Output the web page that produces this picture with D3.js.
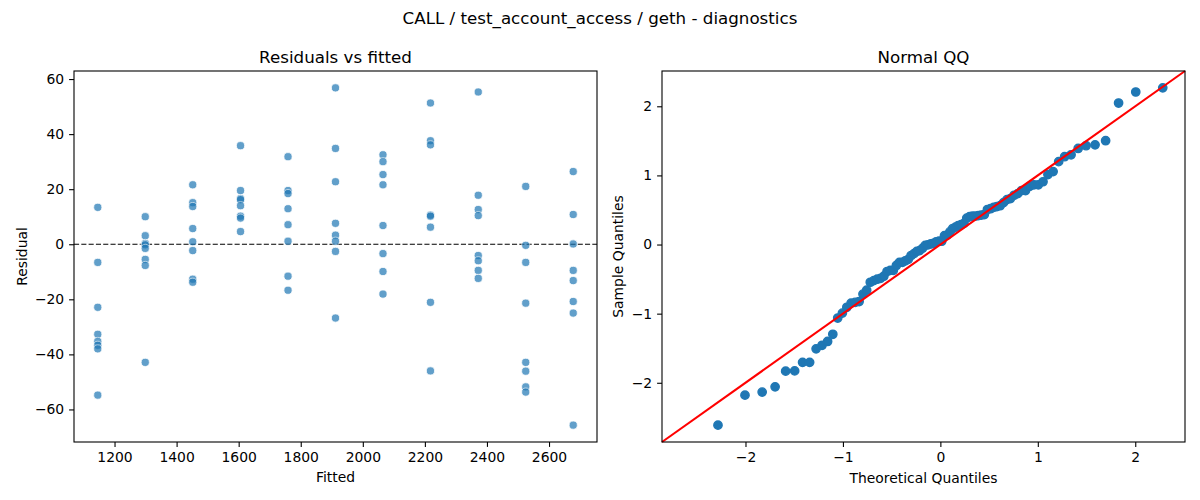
<!DOCTYPE html>
<html>
<head>
<meta charset="utf-8">
<script src="https://cdn.jsdelivr.net/npm/d3@7"></script>
<style>
  body { margin: 0; background: #fff; }
  text { font-family: "DejaVu Sans", sans-serif; fill: #000; }
  .axis text { font-size: 13.9px; font-family: "DejaVu Sans", sans-serif; }
  .axis path, .axis line { stroke: #000; stroke-width: 1.1px; }
</style>
</head>
<body>
<script>
// Fitted values (one per group, x position in the left panel)
var fittedLevels = [1146, 1299, 1452, 1606, 1759, 1912, 2065, 2218, 2372, 2525, 2678];

// Residuals read for each fitted level, same order as fittedLevels
var residualsByLevel = [
    [13.4, -6.6, -22.9, -32.7, -35.3, -36.7, -38.0, -54.8],
    [10.0, 3.1, 0.3, -0.2, -1.5, -5.5, -7.7, -42.9],
    [21.6, 15.1, 13.7, 5.7, 0.9, -2.3, -12.7, -13.8],
    [35.8, 19.5, 16.6, 16.2, 14.0, 10.2, 9.5, 4.6],
    [31.8, 19.5, 18.4, 12.9, 7.1, 1.1, -11.6, -16.7],
    [56.8, 34.8, 22.7, 7.6, 3.3, 1.1, -2.6, -26.8],
    [32.5, 30.0, 25.3, 21.6, 6.8, -3.4, -9.9, -18.1],
    [51.3, 37.6, 36.1, 10.6, 10.2, 6.2, -21.1, -46.0],
    [55.3, 17.8, 12.6, 10.4, -4.1, -6.0, -9.5, -12.4],
    [21.0, -0.4, -6.6, -21.4, -42.9, -46.1, -51.8, -53.7],
    [26.4, 10.8, 0.1, -9.5, -13.2, -20.8, -25.0, -65.7]
];

// Tick values
var fittedTicks = [1200, 1400, 1600, 1800, 2000, 2200, 2400, 2600];
var residualTicks = [-60, -40, -20, 0, 20, 40, 60];
var quantileTicks = [-2, -1, 0, 1, 2];

// Texts
var suptitle = "CALL / test_account_access / geth - diagnostics";
var leftTitle = "Residuals vs fitted";
var rightTitle = "Normal QQ";

var w = 1200, h = 500;

var svg = d3.select("body").append("svg")
    .attr("width", w)
    .attr("height", h);

// flatten residuals into points
var points = [];
fittedLevels.forEach(function(f, i){
    residualsByLevel[i].forEach(function(r){
        points.push({ fitted: f, resid: r });
    });
});

// matplotlib style 5% margin
function pad(ext){
    var d = (ext[1] - ext[0]) * 0.05;
    return [ext[0] - d, ext[1] + d];
}

// inverse normal CDF (Acklam)
function normInv(p){
    var a = [-3.969683028665376e+01, 2.209460984245205e+02, -2.759285104469687e+02, 1.383577518672690e+02, -3.066479806614716e+01, 2.506628277459239e+00];
    var b = [-5.447609879822406e+01, 1.615858368580409e+02, -1.556989798598866e+02, 6.680131188771972e+01, -1.328068155288572e+01];
    var c = [-7.784894002430293e-03, -3.223964580411365e-01, -2.400758277161838e+00, -2.549732539343734e+00, 4.374664141464968e+00, 2.938163982698783e+00];
    var d = [7.784695709041462e-03, 3.224671290700398e-01, 2.445134137142996e+00, 3.754408661907416e+00];
    var pl = 0.02425, q, r;
    if (p < pl) {
        q = Math.sqrt(-2 * Math.log(p));
        return (((((c[0]*q+c[1])*q+c[2])*q+c[3])*q+c[4])*q+c[5]) / ((((d[0]*q+d[1])*q+d[2])*q+d[3])*q+1);
    } else if (p <= 1 - pl) {
        q = p - 0.5; r = q * q;
        return (((((a[0]*r+a[1])*r+a[2])*r+a[3])*r+a[4])*r+a[5])*q / (((((b[0]*r+b[1])*r+b[2])*r+b[3])*r+b[4])*r+1);
    }
    q = Math.sqrt(-2 * Math.log(1 - p));
    return -(((((c[0]*q+c[1])*q+c[2])*q+c[3])*q+c[4])*q+c[5]) / ((((d[0]*q+d[1])*q+d[2])*q+d[3])*q+1);
}

// Suptitle
svg.append("text")
    .attr("x", w / 2)
    .attr("y", 24)
    .attr("text-anchor", "middle")
    .style("font-size", "16.7px")
    .text(suptitle);

// ---------- Left panel: residuals vs fitted ----------
var L = { x0: 74, x1: 597, y0: 71, y1: 442 };

var xL = d3.scaleLinear()
    .domain(pad(d3.extent(fittedLevels)))
    .range([L.x0, L.x1]);
var yL = d3.scaleLinear()
    .domain(pad(d3.extent(points, function(d){ return d.resid; })))
    .range([L.y1, L.y0]);

var left = svg.append("g");

// zero line
left.append("line")
    .attr("x1", L.x0).attr("x2", L.x1)
    .attr("y1", yL(0)).attr("y2", yL(0))
    .style("stroke", "#000")
    .style("stroke-width", 1.1)
    .style("stroke-dasharray", "5.1,2.2");

left.selectAll(".pt")
    .data(points)
    .enter()
    .append("circle")
    .attr("class", "pt")
    .attr("cx", function(d){ return xL(d.fitted); })
    .attr("cy", function(d){ return yL(d.resid); })
    .attr("r", 4.1)
    .style("fill", "#1f77b4")
    .style("stroke", "#fff")
    .style("stroke-width", 0.8)
    .style("opacity", 0.7);

// frame
left.append("rect")
    .attr("x", L.x0).attr("y", L.y0)
    .attr("width", L.x1 - L.x0).attr("height", L.y1 - L.y0)
    .style("fill", "none").style("stroke", "#000").style("stroke-width", 1.1);

left.append("g")
    .attr("class", "axis")
    .attr("transform", "translate(0," + L.y1 + ")")
    .call(d3.axisBottom(xL).tickValues(fittedTicks).tickSize(4.9).tickPadding(4.9).tickFormat(d3.format("d")))
    .call(function(g){ g.select(".domain").remove(); });

left.append("g")
    .attr("class", "axis")
    .attr("transform", "translate(" + L.x0 + ",0)")
    .call(d3.axisLeft(yL).tickValues(residualTicks).tickSize(4.9).tickPadding(4.9).tickFormat(d3.format("d")))
    .call(function(g){ g.select(".domain").remove(); });

left.append("text")
    .attr("x", (L.x0 + L.x1) / 2).attr("y", 63)
    .attr("text-anchor", "middle")
    .style("font-size", "16.7px")
    .text(leftTitle);

left.append("text")
    .attr("x", (L.x0 + L.x1) / 2).attr("y", 482)
    .attr("text-anchor", "middle")
    .style("font-size", "13.9px")
    .text("Fitted");

left.append("text")
    .attr("transform", "translate(27," + (L.y0 + L.y1) / 2 + ") rotate(-90)")
    .attr("text-anchor", "middle")
    .style("font-size", "13.9px")
    .text("Residual");

// ---------- Right panel: normal QQ ----------
var R = { x0: 662, x1: 1185, y0: 71, y1: 442 };

var resid = points.map(function(d){ return d.resid; }).sort(d3.ascending);
var n = resid.length;
var mu = d3.mean(resid);
var sd = Math.sqrt(d3.mean(resid, function(v){ return (v - mu) * (v - mu); }));
var qq = resid.map(function(v, i){
    return { theo: normInv((i + 1) / (n + 1)), samp: (v - mu) / sd };
});

// limits like statsmodels 45-degree line
var xl = pad(d3.extent(qq, function(d){ return d.theo; }));
var yl = pad(d3.extent(qq, function(d){ return d.samp; }));
var lim = [Math.min(xl[0], yl[0]), Math.max(xl[1], yl[1])];

var xR = d3.scaleLinear().domain(lim).range([R.x0, R.x1]);
var yR = d3.scaleLinear().domain(lim).range([R.y1, R.y0]);

var right = svg.append("g");

right.selectAll(".qq")
    .data(qq)
    .enter()
    .append("circle")
    .attr("class", "qq")
    .attr("cx", function(d){ return xR(d.theo); })
    .attr("cy", function(d){ return yR(d.samp); })
    .attr("r", 4.17)
    .style("fill", "#1f77b4")
    .style("stroke", "#1f77b4")
    .style("stroke-width", 1.39);

right.append("line")
    .attr("x1", xR(lim[0])).attr("y1", yR(lim[0]))
    .attr("x2", xR(lim[1])).attr("y2", yR(lim[1]))
    .style("stroke", "red")
    .style("stroke-width", 2.08);

right.append("rect")
    .attr("x", R.x0).attr("y", R.y0)
    .attr("width", R.x1 - R.x0).attr("height", R.y1 - R.y0)
    .style("fill", "none").style("stroke", "#000").style("stroke-width", 1.1);

right.append("g")
    .attr("class", "axis")
    .attr("transform", "translate(0," + R.y1 + ")")
    .call(d3.axisBottom(xR).tickValues(quantileTicks).tickSize(4.9).tickPadding(4.9).tickFormat(d3.format("d")))
    .call(function(g){ g.select(".domain").remove(); });

right.append("g")
    .attr("class", "axis")
    .attr("transform", "translate(" + R.x0 + ",0)")
    .call(d3.axisLeft(yR).tickValues(quantileTicks).tickSize(4.9).tickPadding(4.9).tickFormat(d3.format("d")))
    .call(function(g){ g.select(".domain").remove(); });

right.append("text")
    .attr("x", (R.x0 + R.x1) / 2).attr("y", 63)
    .attr("text-anchor", "middle")
    .style("font-size", "16.7px")
    .text(rightTitle);

right.append("text")
    .attr("x", (R.x0 + R.x1) / 2).attr("y", 483)
    .attr("text-anchor", "middle")
    .style("font-size", "13.9px")
    .text("Theoretical Quantiles");

right.append("text")
    .attr("transform", "translate(623," + (R.y0 + R.y1) / 2 + ") rotate(-90)")
    .attr("text-anchor", "middle")
    .style("font-size", "13.9px")
    .text("Sample Quantiles");
</script>
</body>
</html>
